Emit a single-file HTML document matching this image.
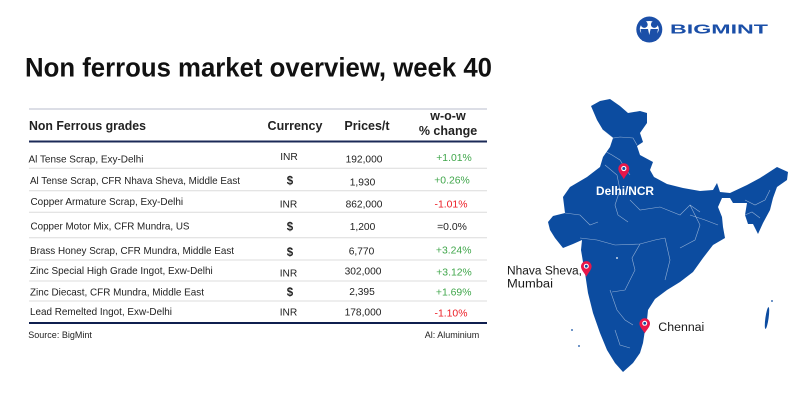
<!DOCTYPE html>
<html><head><meta charset="utf-8">
<style>
html,body{margin:0;padding:0;background:#fff;}
svg{display:block;font-family:"Liberation Sans",Arial,sans-serif;}
</style></head>
<body>
<svg width="800" height="400" viewBox="0 0 800 400" xmlns="http://www.w3.org/2000/svg">
<rect width="800" height="400" fill="#fff"/>

<!-- Logo -->
<circle cx="649.3" cy="29.5" r="13" fill="#1b4fa8"/>
<ellipse cx="649.3" cy="29" rx="9.5" ry="8" fill="#fff"/>
<circle cx="644.3" cy="24.5" r="3.4" fill="#1b4fa8"/>
<circle cx="654.3" cy="24.5" r="3.4" fill="#1b4fa8"/>
<path d="M640.5,29 L648,29 L649.3,35 L650.6,29 L658,29 L656,41 L652,41 L649.3,37 L646.6,41 L642.5,41 Z" fill="#1b4fa8"/>
<text x="670" y="33.7" font-size="13" font-weight="bold" fill="#1b4fa8" textLength="98" lengthAdjust="spacingAndGlyphs">BIGMINT</text>

<!-- Title -->
<text x="25" y="76.7" font-size="26.5" font-weight="bold" fill="#111" textLength="467" lengthAdjust="spacingAndGlyphs">Non ferrous market overview, week 40</text>

<!-- Table lines -->
<line x1="29" y1="109" x2="487" y2="109" stroke="#c6cbd8" stroke-width="1.2"/>
<line x1="29" y1="141.5" x2="487" y2="141.5" stroke="#1b2a57" stroke-width="2"/>
<g stroke="#dcdcdc" stroke-width="1">
<line x1="29" y1="168.3" x2="487" y2="168.3"/>
<line x1="29" y1="190.7" x2="487" y2="190.7"/>
<line x1="29" y1="212.3" x2="487" y2="212.3"/>
<line x1="29" y1="237.7" x2="487" y2="237.7"/>
<line x1="29" y1="260" x2="487" y2="260"/>
<line x1="29" y1="281" x2="487" y2="281"/>
<line x1="29" y1="301" x2="487" y2="301"/>
</g>
<line x1="29" y1="323" x2="487" y2="323" stroke="#0f1f4f" stroke-width="2"/>

<!-- Header -->
<g font-size="12.5" font-weight="bold" fill="#222">
<text x="29" y="130" textLength="117" lengthAdjust="spacingAndGlyphs">Non Ferrous grades</text>
<text x="295" y="130" text-anchor="middle">Currency</text>
<text x="367" y="130" text-anchor="middle">Prices/t</text>
<text x="448" y="120" text-anchor="middle">w-o-w</text>
<text x="448" y="135" text-anchor="middle">% change</text>
</g>

<!-- Rows -->
<g font-size="10.2" fill="#222" lengthAdjust="spacingAndGlyphs">
<text x="28.5" y="162.3" textLength="115" lengthAdjust="spacingAndGlyphs">Al Tense Scrap, Exy-Delhi</text>
<text x="30" y="184" textLength="210" lengthAdjust="spacingAndGlyphs">Al Tense Scrap, CFR Nhava Sheva, Middle East</text>
<text x="30.5" y="205" textLength="152.6" lengthAdjust="spacingAndGlyphs">Copper Armature Scrap, Exy-Delhi</text>
<text x="30.5" y="229.7" textLength="159" lengthAdjust="spacingAndGlyphs">Copper Motor Mix, CFR Mundra, US</text>
<text x="30" y="254" textLength="204" lengthAdjust="spacingAndGlyphs">Brass Honey Scrap, CFR Mundra, Middle East</text>
<text x="30" y="274" textLength="182.7" lengthAdjust="spacingAndGlyphs">Zinc Special High Grade Ingot, Exw-Delhi</text>
<text x="30" y="295.7" textLength="174" lengthAdjust="spacingAndGlyphs">Zinc Diecast, CFR Mundra, Middle East</text>
<text x="30" y="315" textLength="142" lengthAdjust="spacingAndGlyphs">Lead Remelted Ingot, Exw-Delhi</text>
</g>
<g font-size="10.2" fill="#222" text-anchor="middle">
<text x="289" y="160">INR</text>
<text x="290" y="184.5" font-size="11.5" font-weight="bold">$</text>
<text x="288.5" y="207.3">INR</text>
<text x="290" y="230.5" font-size="11.5" font-weight="bold">$</text>
<text x="290" y="256" font-size="11.5" font-weight="bold">$</text>
<text x="288.5" y="276.7">INR</text>
<text x="290" y="296" font-size="11.5" font-weight="bold">$</text>
<text x="288.5" y="315.7">INR</text>

<text x="364" y="162.3">192,000</text>
<text x="362.5" y="185.3">1,930</text>
<text x="364" y="207.3">862,000</text>
<text x="362.5" y="230">1,200</text>
<text x="361.5" y="254.3">6,770</text>
<text x="363" y="274.3">302,000</text>
<text x="362" y="295">2,395</text>
<text x="363" y="315.7">178,000</text>
</g>
<g font-size="10.4" text-anchor="middle">
<text x="454" y="161" fill="#3fa64a">+1.01%</text>
<text x="452" y="183.3" fill="#3fa64a">+0.26%</text>
<text x="451" y="207.3" fill="#ec1c24">-1.01%</text>
<text x="452" y="230" fill="#222">=0.0%</text>
<text x="453.7" y="253.3" fill="#3fa64a">+3.24%</text>
<text x="454" y="275.7" fill="#3fa64a">+3.12%</text>
<text x="453.7" y="295.7" fill="#3fa64a">+1.69%</text>
<text x="451" y="316.7" fill="#ec1c24">-1.10%</text>
</g>

<g font-size="9" fill="#222">
<text x="28.3" y="338">Source: BigMint</text>
<text x="479.3" y="338" text-anchor="end">Al: Aluminium</text>
</g>

<!-- Map -->
<path fill="#0c4ca0" d="M591,106 L600,101 L610,99 L620,106 L628,113 L640,111 L647,113 L647,123 L640,133 L643,142 L637,146 L640,155 L653,162 L650,170 L654,177 L667,184 L683,188 L700,191 L713,190 L717,183 L720,192 L730,193 L747,185 L760,178 L777,167 L788,172 L787,180 L777,187 L773,198 L770,210 L763,223 L758,234 L753,224 L748,224 L745,215 L747,203 L733,203 L730,198 L722,198 L718,207 L722,217 L723,227 L725,238 L713,245 L703,258 L693,272 L680,282 L667,290 L655,299 L648,310 L647,320 L645,330 L643,343 L640,353 L633,363 L623,372 L615,363 L607,350 L600,333 L593,313 L588,293 L585,273 L583,262 L581,250 L582,240 L573,244 L563,248 L555,238 L550,230 L548,222 L553,216 L565,213 L563,197 L570,187 L587,177 L600,167 L603,157 L610,147 L613,138 L603,130 L597,120 Z"/>
<!-- islands -->
<ellipse cx="767" cy="318" rx="1.6" ry="11" fill="#0c4ca0" transform="rotate(8 767 318)"/>
<circle cx="772" cy="301" r="0.9" fill="#0c4ca0"/>
<circle cx="572" cy="330" r="0.9" fill="#0c4ca0"/>
<circle cx="579" cy="346" r="0.9" fill="#0c4ca0"/>
<!-- state borders -->
<g fill="none" stroke="#ffffff" stroke-opacity="0.55" stroke-width="0.6">
<polyline points="603,130 613,138 620,137 633,138 637,145"/>
<polyline points="603,150 612,155 620,160 625,168 630,175"/>
<polyline points="605,165 617,175 620,190 615,205 618,215 628,222"/>
<polyline points="630,200 640,210 660,207 680,215 690,205 700,212"/>
<polyline points="580,238 597,240 615,245 640,244 655,240 665,238"/>
<polyline points="640,244 632,258 635,270 625,290 612,292"/>
<polyline points="610,290 617,310 625,320 633,325"/>
<polyline points="615,330 620,345 630,348"/>
<polyline points="665,238 670,260 665,280"/>
<polyline points="690,215 705,220 718,225"/>
<polyline points="690,205 700,225 695,240 680,248"/>
<polyline points="565,213 580,215 590,225 598,222"/>
<polyline points="745,200 755,205 765,200 770,190"/>
<polyline points="745,215 752,212 760,218"/>
</g>
<circle cx="617" cy="258" r="0.9" fill="#fff"/>

<!-- Pins -->
<g>
<path d="M618.3,168.8 A5.5,5.5 0 1 1 629.3,168.8 C629.3,172.5 625.5,175.5 623.8,179.3 C622.1,175.5 618.3,172.5 618.3,168.8 Z" fill="#e8174a"/>
<circle cx="623.8" cy="168.5" r="2.6" fill="#fff"/><circle cx="623.8" cy="168.5" r="1.5" fill="#0c4ca0"/>
<path d="M581,266.5 A5.3,5.3 0 1 1 591.6,266.5 C591.6,270 588,273 586.3,276.7 C584.6,273 581,270 581,266.5 Z" fill="#e8174a"/>
<circle cx="586.3" cy="266.2" r="2.5" fill="#fff"/><circle cx="586.3" cy="266.2" r="1.4" fill="#0c4ca0"/>
<path d="M639.4,323.6 A5.3,5.3 0 1 1 650,323.6 C650,327 646.4,330 644.7,333.3 C643,330 639.4,327 639.4,323.6 Z" fill="#e8174a"/>
<circle cx="644.7" cy="323.3" r="2.5" fill="#fff"/><circle cx="644.7" cy="323.3" r="1.4" fill="#0c4ca0"/>
</g>

<!-- Map labels -->
<text x="596" y="195" font-size="11.5" font-weight="bold" fill="#fff" textLength="58" lengthAdjust="spacingAndGlyphs">Delhi/NCR</text>
<g font-size="11.5" fill="#1a1a1a">
<text x="507" y="274.3" textLength="75" lengthAdjust="spacingAndGlyphs">Nhava Sheva,</text>
<text x="507" y="287.3" textLength="46" lengthAdjust="spacingAndGlyphs">Mumbai</text>
<text x="658.3" y="331" textLength="46" lengthAdjust="spacingAndGlyphs">Chennai</text>
</g>
</svg>
</body></html>
